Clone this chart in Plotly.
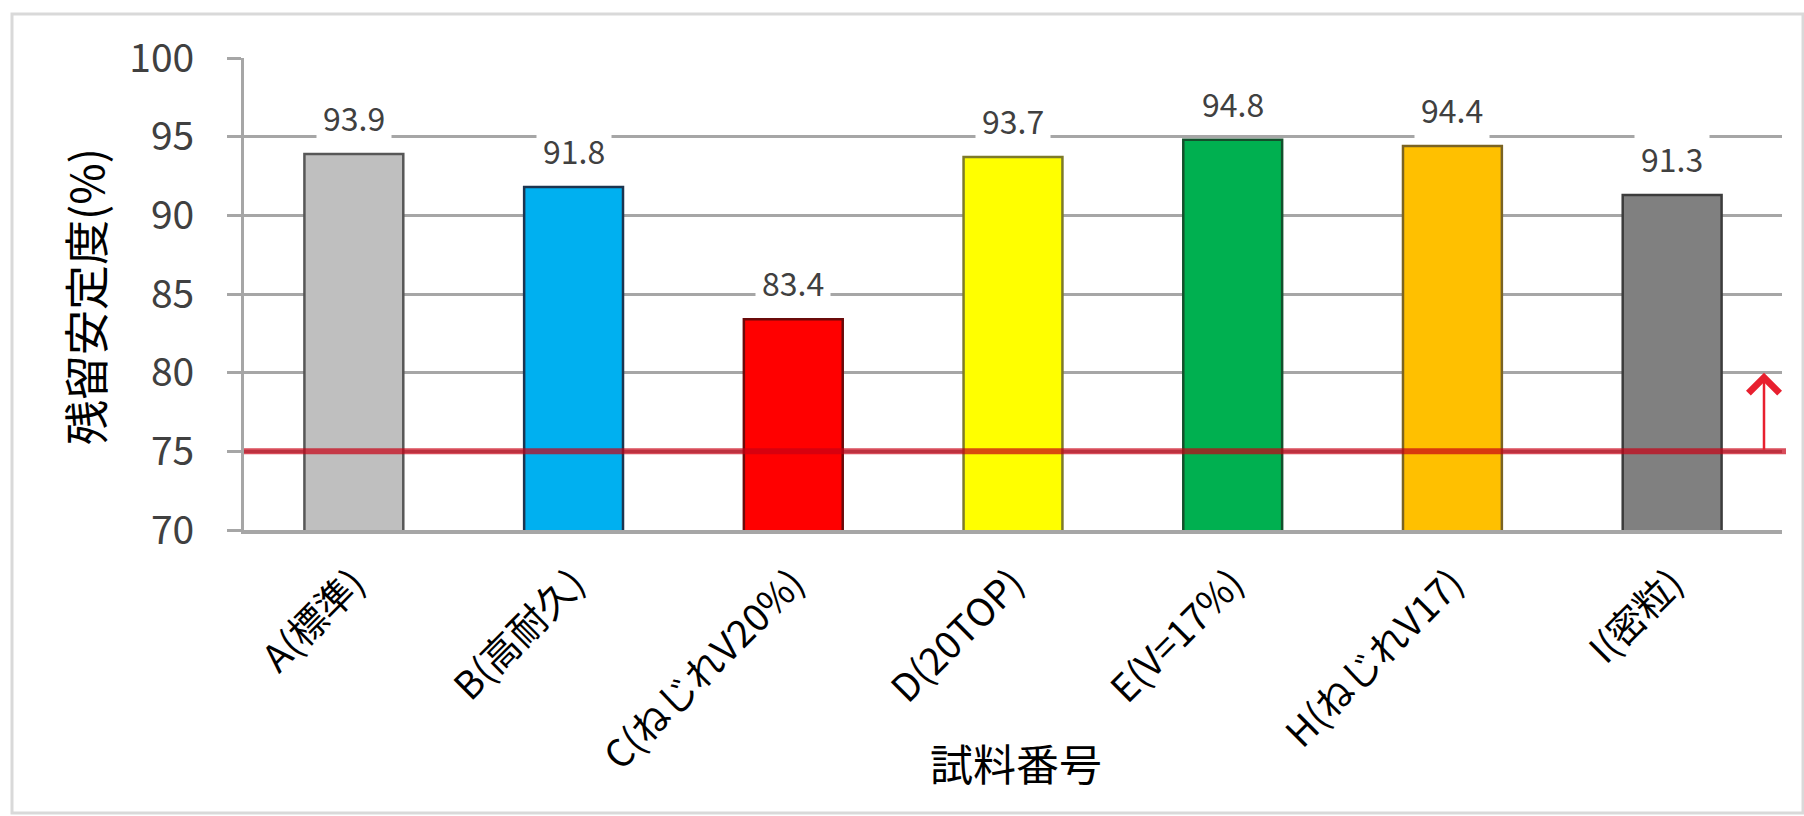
import plotly.graph_objects as go

# Residual stability per sample
samples = ["A(標準)", "B(高耐久)", "C(ねじれV20%)", "D(20TOP)", "E(V=17%)", "H(ねじれV17)", "I(密粒)"]
stability = [93.9, 91.8, 83.4, 93.7, 94.8, 94.4, 91.3]
y_ticks = [70, 75, 80, 85, 90, 95, 100]
threshold = 75
arrow_top = 80

fill_colors = ["#BFBFBF", "#00B0F0", "#FF0000", "#FFFF00", "#00B050", "#FFC000", "#808080"]
edge_colors = ["#575757", "#1c3550", "#6a0a0a", "#7d7a2a", "#14502c", "#7a6324", "#3c3c3c"]

W, H = 1804, 816
ML, MR, MT, MB = 244, 22, 58, 286
pw, ph = W - ML - MR, H - MT - MB

def px_x(px):
    return (px - ML) / pw

def px_y(py):
    return (H - MB - py) / ph

JP = "Noto Sans CJK JP"

fig = go.Figure()
fig.add_trace(go.Bar(
    x=samples, y=stability,
    marker=dict(color=fill_colors, line=dict(color=edge_colors, width=2.5)),
    showlegend=False, hoverinfo="x+y",
))

# value labels on white boxes above each bar
for s, v in zip(samples, stability):
    fig.add_annotation(
        x=s, y=v, yshift=37, text=f"{v:.1f}", showarrow=False,
        font=dict(family=JP, size=32, color="#404040"),
        bgcolor="white", borderpad=6,
    )

# threshold line
fig.add_shape(type="line", xref="paper", yref="y",
              x0=0, x1=px_x(1786), y0=threshold, y1=threshold,
              line=dict(color="rgba(200,0,20,0.7)", width=6), layer="above")

# upward arrow from the threshold
fig.add_annotation(
    xref="paper", yref="y", x=px_x(1764), y=arrow_top,
    axref="pixel", ayref="y", ax=0, ay=threshold,
    showarrow=True, arrowhead=4, arrowsize=2.4, arrowwidth=2.5,
    arrowcolor="#E8202F", text="",
)

# outer frame
fig.add_shape(type="rect", xref="paper", yref="paper",
              x0=px_x(12), x1=px_x(1803), y0=px_y(813), y1=px_y(14),
              line=dict(color="#D9D9D9", width=3), fillcolor="rgba(0,0,0,0)", layer="below")

# axis titles
fig.add_annotation(xref="paper", yref="paper", x=px_x(84), y=px_y(297),
                   xanchor="center", yanchor="middle",
                   text="残留安定度(%)", textangle=-90, showarrow=False,
                   font=dict(family=JP, size=45, color="black"))
fig.add_annotation(xref="paper", yref="paper", x=px_x(1016), y=px_y(762),
                   xanchor="center", yanchor="middle",
                   text="試料番号", showarrow=False,
                   font=dict(family=JP, size=43, color="black"))

fig.update_layout(
    width=W, height=H,
    margin=dict(l=ML, r=MR, t=MT, b=MB, pad=0),
    paper_bgcolor="white", plot_bgcolor="white",
    bargap=0.55,
    font=dict(family=JP),
)
fig.update_yaxes(
    range=[70, 100], tickvals=y_ticks,
    showgrid=True, gridcolor="#A6A6A6", gridwidth=3,
    showline=True, linecolor="#A6A6A6", linewidth=3,
    ticks="outside", ticklen=14, tickwidth=3, tickcolor="#A6A6A6",
    ticklabelstandoff=25,
    tickfont=dict(family=JP, size=39, color="#404040"),
    zeroline=False,
)
fig.update_xaxes(
    showline=True, linecolor="#A6A6A6", linewidth=4,
    ticks="", tickangle=-45, ticklabelstandoff=12,
    tickfont=dict(family=JP, size=38, color="black"),
)

fig.write_html("out.html")
